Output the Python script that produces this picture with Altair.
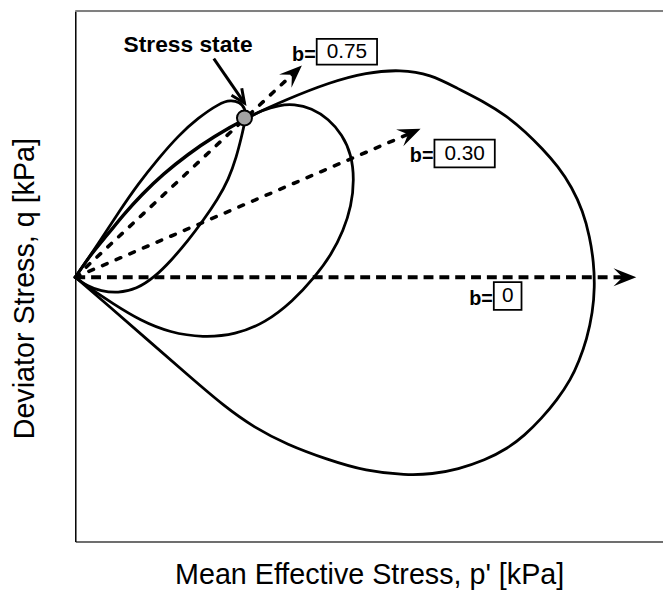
import math
import altair as alt
import pandas as pd

# ---------------- data (units; the loops share their tip at p=0, q=0) ----------------
# yield loop for b = 0 (largest)
loop_b0_p = [0, 16, 33, 49, 67, 89, 114, 139, 172, 214, 257, 294, 329, 359, 386, 412, 436, 455, 472, 488,
             502, 513, 520, 524, 525, 523, 517, 509, 501, 487, 471, 454, 437, 414, 387, 361, 334, 294, 254,
             214, 181, 150, 114, 74, 34, 0]
loop_b0_q = [0, 24, 44, 64, 84, 105, 125, 142, 161, 180, 197, 207, 210, 205, 191, 178, 163, 147, 130, 112,
             91, 67, 41, 15, -10, -35, -63, -85, -103, -124, -143, -160, -173, -185, -194, -199, -200, -196, -184,
             -169, -152, -130, -99, -64, -29, 0]

# yield loop for b = 0.30
loop_b30_p = [0, 16, 33, 49, 67, 89, 114, 139, 172, 189, 206, 221, 239, 256, 270, 279, 282, 279, 271, 259,
              242, 220, 192, 162, 129, 96, 66, 37, 16, 0]
loop_b30_q = [0, 23, 43, 63, 83, 104, 124, 141, 160, 169, 174, 175, 171, 160, 144, 124, 99, 72, 47, 23,
              0, -24, -46, -58, -61, -56, -44, -26, -12, 0]

# yield loop for b = 0.75 (smallest)
loop_b75_p = [0, 12, 26, 43, 62, 80, 97, 114, 129, 144, 155, 163, 168, 172, 172, 166, 157, 146, 124, 104,
              84, 64, 44, 24, 0]
loop_b75_q = [0, -9, -14, -16, -12, 0, 17, 37, 57, 79, 99, 122, 142, 159, 171, 177, 179, 176, 161, 143,
              120, 95, 66, 35, 0]

# stress paths (dashed arrows) and their b labels
b_values = ["0", "0.30", "0.75"]
arrow_tip_p = [567, 349, 229]
arrow_tip_q = [0, 150, 214]

# label boxes
box_p1 = [423, 363, 244]
box_p2 = [451, 424, 305]
box_q1 = [-33, 111, 215]
box_q2 = [-5, 139, 241]

# stress state
stress_p = [171]
stress_q = [161]
pointer_p = [140, 171]
pointer_q = [221, 176]
stress_label = "Stress state"
stress_label_p = [114]
stress_label_q = [235]

# ---------------- tables ----------------
rows = []
for name, ps, qs in [("b0", loop_b0_p, loop_b0_q), ("b30", loop_b30_p, loop_b30_q), ("b75", loop_b75_p, loop_b75_q)]:
    for i, (p, q) in enumerate(zip(ps, qs)):
        rows.append({"loop": name, "p": p, "q": q, "ord": i})
loops = pd.DataFrame(rows)

arr_rows, head_rows = [], []
for b, tp, tq in zip(b_values, arrow_tip_p, arrow_tip_q):
    L = math.hypot(tp, tq)
    ep, eq = tp * (1 - 9 / L), tq * (1 - 9 / L)
    arr_rows.append({"b": b, "p": 0, "q": 0, "ord": 0})
    arr_rows.append({"b": b, "p": ep, "q": eq, "ord": 1})
    head_rows.append({"b": b, "p": tp, "q": tq, "angle": (-math.degrees(math.atan2(tq, tp))) % 360})
arrows = pd.DataFrame(arr_rows)
heads = pd.DataFrame(head_rows)

boxes = pd.DataFrame({"b": b_values, "p1": box_p1, "p2": box_p2, "q1": box_q1, "q2": box_q2})
boxes["pc"] = (boxes.p1 + boxes.p2) / 2
boxes["qc"] = (boxes.q1 + boxes.q2) / 2
boxes["pb"] = boxes.p1 - 1
boxes["qb"] = boxes.qc - 3
boxes["btxt"] = "b="

stress = pd.DataFrame({"p": stress_p, "q": stress_q})
pointer = pd.DataFrame({"p": pointer_p, "q": pointer_q, "ord": [0, 1]})
ptr_angle = (math.degrees(math.atan2(pointer_q[0] - pointer_q[1], pointer_p[1] - pointer_p[0]))) % 360
pointer_head = pd.DataFrame({"p": [pointer_p[1]], "q": [pointer_q[1]], "angle": [ptr_angle]})
slabel = pd.DataFrame({"p": stress_label_p, "q": stress_label_q, "t": [stress_label]})

# ---------------- scales / axes ----------------
FONT = "Liberation Sans, Arial, sans-serif"
W, H = 594, 536
xs = alt.Scale(domain=[0, 594], nice=False, zero=False)
ys = alt.Scale(domain=[-267, 269], nice=False, zero=False)
xaxis = alt.Axis(title="Mean Effective Stress, p' [kPa]", ticks=False, labels=False, grid=False,
                 domainColor="#444444", domainWidth=1.5, titleFont=FONT, titleFontSize=29,
                 titleFontWeight="normal", titleColor="black", titleY=43, titleBaseline="alphabetic")
yaxis = alt.Axis(title="Deviator Stress, q [kPa]", ticks=False, labels=False, grid=False,
                 domainColor="black", domainWidth=1.5, titleFont=FONT, titleFontSize=29,
                 titleFontWeight="normal", titleColor="black", titleX=-42, titleY=280,
                 titleAngle=270, titleAlign="center", titleBaseline="alphabetic")


def X(f):
    return alt.X(f, scale=xs, axis=xaxis)


def Y(f):
    return alt.Y(f, scale=ys, axis=yaxis)


curves = alt.Chart(loops).mark_line(interpolate="basis", color="black", strokeWidth=2.8,
                                    strokeCap="round", strokeJoin="round").encode(
    x=X("p:Q"), y=Y("q:Q"), detail="loop:N", order="ord:Q")

dash0 = alt.Chart(arrows).transform_filter("datum.b == '0'").mark_line(
    color="black", strokeWidth=4, strokeDash=[10, 6]).encode(
    x=X("p:Q"), y=Y("q:Q"), detail="b:N", order="ord:Q")

dashd = alt.Chart(arrows).transform_filter("datum.b != '0'").mark_line(
    color="black", strokeWidth=3.6, strokeDash=[5, 10], strokeCap="round").encode(
    x=X("p:Q"), y=Y("q:Q"), detail="b:N", order="ord:Q")

arrowheads = alt.Chart(heads).mark_point(
    shape="M0,0 L-2,-0.8 L-1.2,0 L-2,0.8 Z", filled=True, size=529, color="black", opacity=1,
    strokeWidth=0).encode(x=X("p:Q"), y=Y("q:Q"), angle=alt.Angle("angle:Q", scale=None))

ptr_line = alt.Chart(pointer).mark_line(color="black", strokeWidth=3).encode(
    x=X("p:Q"), y=Y("q:Q"), order="ord:Q")

ptr_head = alt.Chart(pointer_head).mark_point(
    shape="M-2,-0.9 L0,0 L-2,0.9", filled=False, size=196, color="black", opacity=1,
    strokeWidth=3, strokeJoin="miter").encode(
    x=X("p:Q"), y=Y("q:Q"), angle=alt.Angle("angle:Q", scale=None))

dot = alt.Chart(stress).mark_point(shape="circle", filled=True, fill="#a3a3a3", stroke="black",
                                   strokeWidth=2, size=230, opacity=1).encode(x=X("p:Q"), y=Y("q:Q"))

rects = alt.Chart(boxes).mark_rect(fill="white", stroke="black", strokeWidth=1.8).encode(
    x=X("p1:Q"), x2="p2", y=Y("q1:Q"), y2="q2")

vals = alt.Chart(boxes).mark_text(font=FONT, fontSize=21, color="black", align="center",
                                  baseline="middle").encode(x=X("pc:Q"), y=Y("qc:Q"), text="b:N")

btxt = alt.Chart(boxes).mark_text(font=FONT, fontSize=20, fontWeight="bold", color="black",
                                  align="right", baseline="middle").encode(
    x=X("pb:Q"), y=Y("qb:Q"), text="btxt:N")

stext = alt.Chart(slabel).mark_text(font=FONT, fontSize=23, fontWeight="bold", color="black",
                                    align="center", baseline="middle").encode(
    x=X("p:Q"), y=Y("q:Q"), text="t:N")

top_border = alt.Chart(stress).mark_rule(color="#808080", strokeWidth=2).encode(
    x=alt.value(0), x2=alt.value(W), y=alt.value(0))

chart = alt.layer(top_border, curves, dash0, dashd, arrowheads, ptr_line, ptr_head, dot,
                  rects, vals, btxt, stext).properties(
    width=W, height=H,
    autosize=alt.AutoSizeParams(type="none"),
    padding={"left": 68, "top": 0, "right": 0, "bottom": 52},
).configure_view(stroke=None).configure(background="white")

chart.save("out.html", embed_options={"renderer": "svg", "actions": False})
